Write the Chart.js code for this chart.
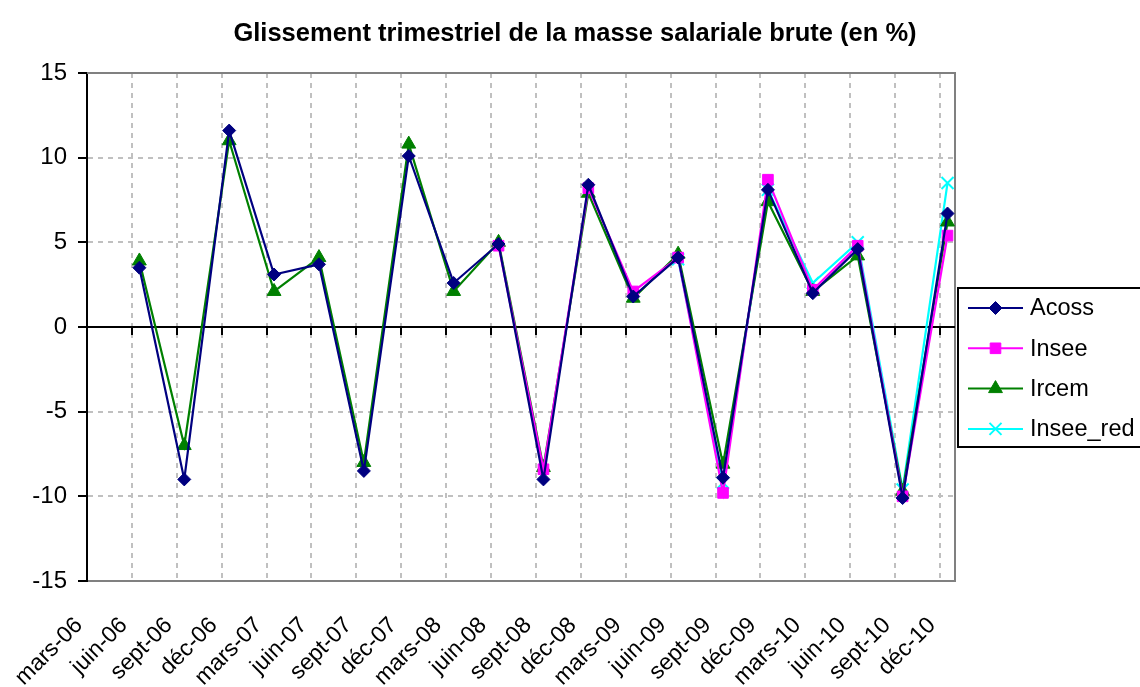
<!DOCTYPE html>
<html><head><meta charset="utf-8">
<script src="https://cdn.jsdelivr.net/npm/chart.js@4.4.0/dist/chart.umd.min.js"></script>
<style>html,body{margin:0;padding:0;background:#fff;}canvas{display:block}</style>
</head><body>
<canvas id="c" width="1140" height="687"></canvas>
<script>
const chartTitle = "Glissement trimestriel de la masse salariale brute (en %)";
const tickLabels = ["mars-06","juin-06","sept-06","déc-06","mars-07","juin-07","sept-07","déc-07",
  "mars-08","juin-08","sept-08","déc-08","mars-09","juin-09","sept-09","déc-09",
  "mars-10","juin-10","sept-10","déc-10"];
const quarters = ["juin-06","sept-06","déc-06","mars-07","juin-07","sept-07","déc-07",
  "mars-08","juin-08","sept-08","déc-08","mars-09","juin-09","sept-09","déc-09",
  "mars-10","juin-10","sept-10","déc-10"];
const acoss    = [3.5, -9.0, 11.6, 3.1, 3.7, -8.5, 10.1, 2.6, 4.9, -9.0, 8.4, 1.8, 4.1, -8.9, 8.1, 2.0, 4.6, -10.1, 6.7];
const insee    = [null, null, null, null, null, null, null, null, 4.8, -8.4, 8.2, 2.1, 4.1, -9.8, 8.7, 2.2, 4.8, -10.0, 5.4];
const ircem    = [3.9, -7.0, 11.0, 2.1, 4.1, -8.0, 10.8, 2.1, 5.0, -8.3, 7.9, 1.7, 4.3, -8.1, 7.4, 2.1, 4.2, -9.7, 6.2];
const inseeRed = [null, null, null, null, null, null, null, null, null, null, null, null, 4.0, -9.2, 8.1, 2.6, 5.0, -9.6, 8.5];
const yTicks = [-15, -10, -5, 0, 5, 10, 15];

// x axis in months since mars-06 (one label every 3 months); a quarter's point sits in the middle of its month slot
const monthOf = q => tickLabels.indexOf(q) * 3 + 0.5;
const toPoints = arr => quarters.map((q, i) => ({x: monthOf(q), y: arr[i]}));

const FONT = "'Liberation Sans', Arial, sans-serif";

const decor = {
  id: 'decor',
  beforeDatasetsDraw(chart) {
    const {ctx, chartArea: a, scales: {x, y}} = chart;
    ctx.save();
    ctx.setLineDash([]);
    ctx.strokeStyle = '#808080';
    ctx.lineWidth = 2;
    ctx.beginPath();
    ctx.moveTo(a.left, a.top); ctx.lineTo(a.right, a.top); ctx.lineTo(a.right, a.bottom);
    ctx.stroke();
    const y0 = y.getPixelForValue(0);
    ctx.strokeStyle = '#000';
    ctx.lineWidth = 2;
    ctx.beginPath();
    ctx.moveTo(a.left, y0); ctx.lineTo(a.right, y0);
    x.ticks.forEach(t => {
      const px = Math.round(x.getPixelForValue(t.value));
      ctx.moveTo(px, y0); ctx.lineTo(px, y0 + 8);
    });
    ctx.stroke();
    ctx.restore();
  },
  afterDraw(chart) {
    const {ctx, chartArea: a} = chart;
    ctx.save();
    // title
    ctx.fillStyle = '#000';
    ctx.font = "bold 25.5px " + FONT;
    ctx.textAlign = 'center';
    ctx.textBaseline = 'middle';
    ctx.fillText(chartTitle, 575, 34);
    // legend
    const bx = a.right + 3, by = 288, bw = 300, bh = 159;
    ctx.fillStyle = '#fff';
    ctx.fillRect(bx, by, bw, bh);
    ctx.strokeStyle = '#000';
    ctx.lineWidth = 2;
    ctx.strokeRect(bx, by, bw, bh);
    chart.data.datasets.forEach((ds, i) => {
      const cy = by + 20 + i * 40.3;
      ctx.strokeStyle = ds.borderColor;
      ctx.lineWidth = 2;
      ctx.beginPath();
      ctx.moveTo(bx + 10, cy); ctx.lineTo(bx + 65, cy);
      ctx.stroke();
      ctx.fillStyle = ds.backgroundColor;
      ctx.strokeStyle = ds.borderColor;
      ctx.lineWidth = ds.pointBorderWidth;
      Chart.helpers.drawPoint(ctx, {pointStyle: ds.pointStyle, radius: ds.pointRadius, borderWidth: ds.pointBorderWidth, rotation: 0}, bx + 37.5, cy);
      ctx.fillStyle = '#000';
      ctx.font = "23.5px " + FONT;
      ctx.textAlign = 'left';
      ctx.textBaseline = 'middle';
      ctx.fillText(ds.label, bx + 72, cy + 1);
    });
    ctx.restore();
  }
};

const mk = (label, arr, color, style, radius, bw) => ({
  label, data: toPoints(arr), borderColor: color, backgroundColor: color,
  borderWidth: 2.2, pointStyle: style, pointRadius: radius, pointHoverRadius: radius,
  pointBorderWidth: bw, pointBackgroundColor: color, pointBorderColor: color,
  tension: 0, spanGaps: false, fill: false
});

new Chart(document.getElementById('c'), {
  type: 'line',
  data: {
    datasets: [
      mk('Acoss', acoss, '#000080', 'rectRot', 6.5, 1),
      mk('Insee', insee, '#FF00FF', 'rect', 7.5, 1),
      mk('Ircem', ircem, '#008000', 'triangle', 8, 1),
      mk('Insee_red', inseeRed, '#00FFFF', 'crossRot', 8.5, 2)
    ]
  },
  options: {
    responsive: false,
    animation: false,
    devicePixelRatio: 1,
    layout: {padding: {top: 73, right: 185, left: 0, bottom: 0}},
    plugins: {legend: {display: false}, title: {display: false}, tooltip: {enabled: false}},
    scales: {
      x: {
        type: 'linear', min: 0, max: 58,
        afterFit: s => { s.height = 106; s.paddingLeft = 0; s.paddingRight = 0; },
        ticks: {
          stepSize: 3, includeBounds: false, autoSkip: false,
          minRotation: 45, maxRotation: 45, padding: 31, labelOffset: -8,
          color: '#000', font: {family: FONT, size: 23},
          callback: v => tickLabels[Math.round(v / 3)] ?? null
        },
        grid: {
          color: c => (c.tick && c.tick.value === 0) ? 'rgba(0,0,0,0)' : '#C0C0C0',
          lineWidth: 2, drawTicks: false
        },
        border: {color: '#808080', width: 2, dash: [5, 5]}
      },
      y: {
        min: -15, max: 15,
        afterFit: s => { s.width = 87; s.paddingTop = 0; s.paddingBottom = 0; },
        afterBuildTicks: s => { s.ticks = yTicks.map(v => ({value: v})); },
        ticks: {color: '#000', font: {family: FONT, size: 24}, padding: 11},
        grid: {
          color: c => (c.tick && [0, 15, -15].includes(c.tick.value)) ? 'rgba(0,0,0,0)' : '#C0C0C0',
          lineWidth: 2, tickLength: 9, tickColor: '#000', tickWidth: 2, tickBorderDash: []
        },
        border: {color: '#000', width: 2, dash: [5, 5]}
      }
    }
  },
  plugins: [decor]
});
</script>
</body></html>
